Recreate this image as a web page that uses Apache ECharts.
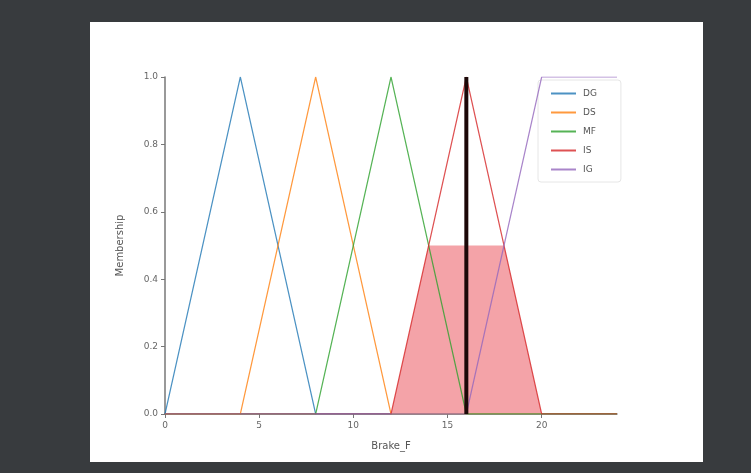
<!DOCTYPE html>
<html>
<head>
<meta charset="utf-8">
<script src="https://cdn.jsdelivr.net/npm/echarts@6/dist/echarts.min.js"></script>
<style>
html,body{margin:0;padding:0;background:#383b3e;}
#c{width:751px;height:473px;}
</style>
</head>
<body>
<div id="c"></div>
<script>
// Term names and membership functions (x, membership)
const termNames = ['DG', 'DS', 'MF', 'IS', 'IG'];
const termColors = ['#1f77b4', '#ff7f0e', '#2ca02c', '#d62728', '#9467bd'];
const DG = [[0, 0], [4, 1], [8, 0], [24, 0]];
const DS = [[0, 0], [4, 0], [8, 1], [12, 0], [24, 0]];
const MF = [[0, 0], [8, 0], [12, 1], [16, 0], [24, 0]];
const IS = [[0, 0], [12, 0], [16, 1], [20, 0], [24, 0]];
const IG = [[0, 0], [16, 0], [20, 1], [24, 1]];
// Activated (clipped) output region
const activated = [[12, 0], [14, 0.5], [18, 0.5], [20, 0]];
// Crisp output value
const crispValue = 16;
const crispLine = [[crispValue, 0], [crispValue, 1]];
const xTicks = [0, 5, 10, 15, 20];
const yTicks = [0, 0.2, 0.4, 0.6, 0.8, 1.0];
const xRange = [0, 24];
const xName = 'Brake_F';
const yName = 'Membership';

const termData = [DG, DS, MF, IS, IG];
const chart = echarts.init(document.getElementById('c'), null, {renderer: 'canvas'});

const series = [];
series.push({
  name: 'activated', type: 'line', data: activated, symbol: 'none',
  lineStyle: {width: 0}, areaStyle: {color: '#f4a3a8', opacity: 1},
  itemStyle: {color: '#f4a3a8'}, z: 1, silent: true
});
termNames.forEach((n, i) => {
  series.push({
    name: n, type: 'line', data: termData[i], symbol: 'none',
    lineStyle: {width: 1.2, color: termColors[i], opacity: 0.8},
    itemStyle: {color: termColors[i], opacity: 0.8}, z: 3
  });
});
series.push({
  name: 'crisp', type: 'line', data: crispLine, symbol: 'none',
  lineStyle: {width: 4, color: '#1c0808'}, z: 4, silent: true
});

chart.setOption({
  backgroundColor: '#383b3e',
  animation: false,
  graphic: [{
    type: 'rect', left: 90, top: 22, shape: {width: 613, height: 440},
    style: {fill: '#ffffff'}, z: -10
  }],
  grid: {left: 165, right: 134, top: 77, bottom: 59},
  legend: {
    data: termNames, orient: 'vertical', left: 538, top: 80,
    padding: [9, 24, 8, 13], itemWidth: 25, itemHeight: 2, itemGap: 10,
    icon: 'rect',
    borderColor: '#e6e6e6', borderWidth: 1, borderRadius: 3,
    backgroundColor: 'rgba(255,255,255,0)', z: 0,
    textStyle: {fontSize: 9, color: '#555', fontFamily: 'DejaVu Sans', padding: [0, 0, 0, 2]}
  },
  xAxis: {
    type: 'value', min: xRange[0], max: xRange[1],
    name: xName, nameLocation: 'middle', nameGap: 27,
    nameTextStyle: {fontSize: 10, color: '#555', fontFamily: 'DejaVu Sans'},
    axisLine: {show: true, lineStyle: {color: '#777', width: 1.5}},
    axisTick: {show: true, length: 4, customValues: xTicks, lineStyle: {color: '#777'}},
    axisLabel: {customValues: xTicks, fontSize: 9, color: '#666', margin: 7, fontFamily: 'DejaVu Sans'},
    splitLine: {show: false}
  },
  yAxis: {
    type: 'value', min: 0, max: 1,
    name: yName, nameLocation: 'middle', nameGap: 40,
    nameTextStyle: {fontSize: 10, color: '#555', fontFamily: 'DejaVu Sans'},
    axisLine: {show: true, lineStyle: {color: '#777', width: 1.5}},
    axisTick: {show: true, length: 4, customValues: yTicks, lineStyle: {color: '#777'}},
    axisLabel: {customValues: yTicks, fontSize: 9, color: '#666', margin: 7, fontFamily: 'DejaVu Sans',
      formatter: v => v.toFixed(1)},
    splitLine: {show: false}
  },
  series: series
});
</script>
</body>
</html>
